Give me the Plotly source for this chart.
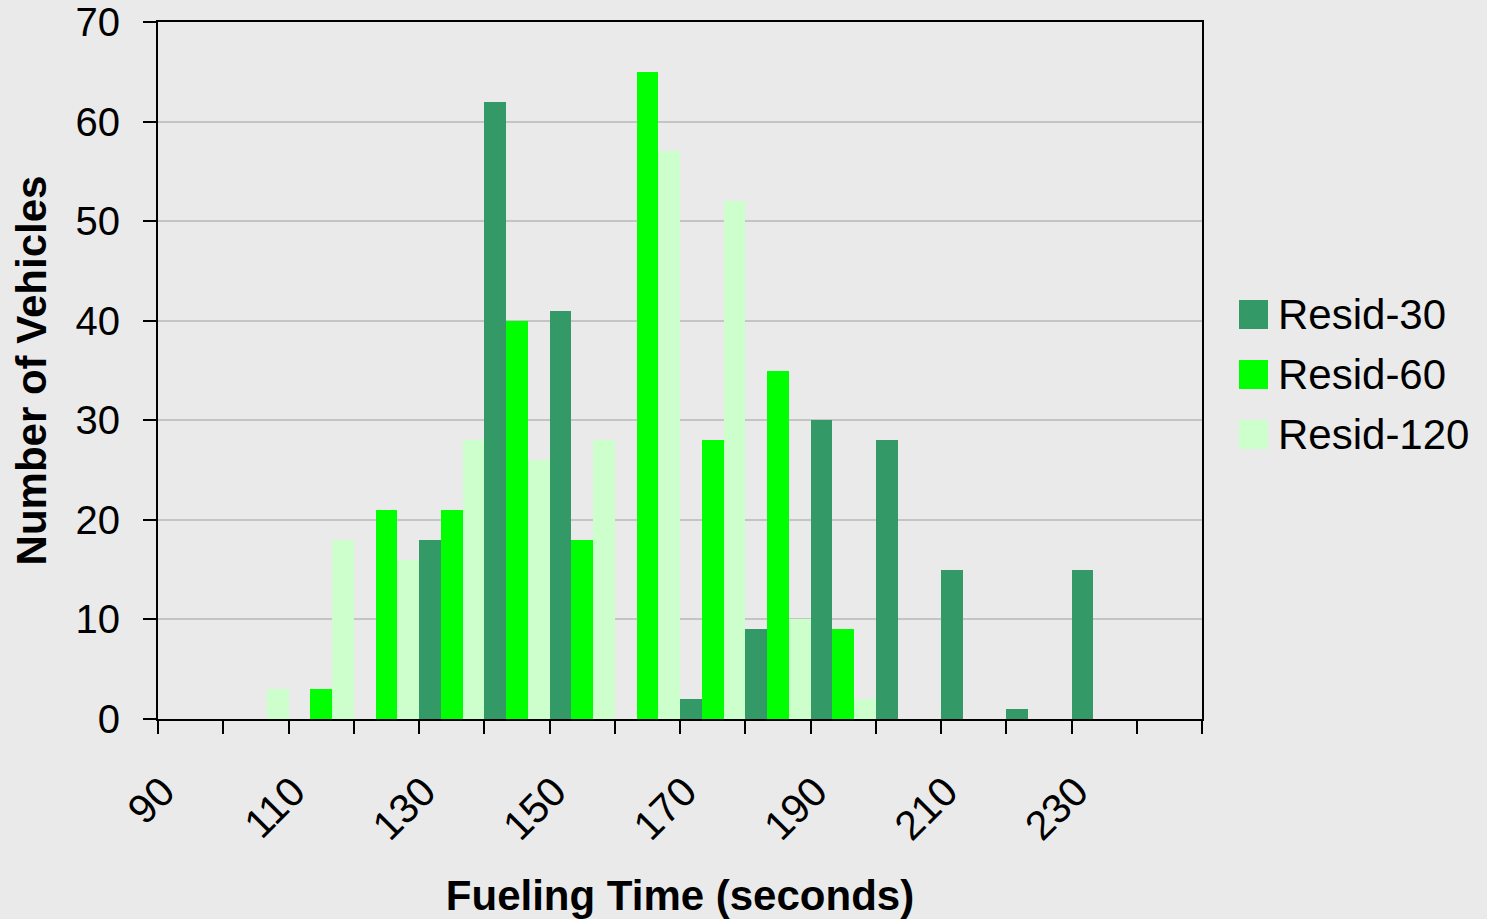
import plotly.graph_objects as go

# Fueling time bins (seconds) and vehicle counts per residence-time setting
fueling_time = [90, 100, 110, 120, 130, 140, 150, 160, 170, 180, 190, 200, 210, 220, 230, 240]
resid_30 = [0, 0, 0, 0, 18, 62, 41, 0, 2, 9, 30, 28, 15, 1, 15, 0]
resid_60 = [0, 0, 3, 21, 21, 40, 18, 65, 28, 35, 9, 0, 0, 0, 0, 0]
resid_120 = [0, 3, 18, 16, 28, 26, 28, 57, 52, 10, 2, 0, 0, 0, 0, 0]

series_names = ["Resid-30", "Resid-60", "Resid-120"]
series_values = [resid_30, resid_60, resid_120]
series_colors = ["#339966", "#00FF00", "#CCFFCC"]

x_labels = [90, 110, 130, 150, 170, 190, 210, 230]
y_ticks = [0, 10, 20, 30, 40, 50, 60, 70]

W, H = 1487, 919
L, R, T, B = 158, 285, 22, 200
plot_w = W - L - R
plot_h = H - T - B
bg = "#EAEAEA"
font_family = "Arial, Liberation Sans, sans-serif"

fig = go.Figure()
for name, vals, col in zip(series_names, series_values, series_colors):
    fig.add_trace(go.Bar(x=fueling_time, y=vals, name=name, marker=dict(color=col, line=dict(width=0)),
                         showlegend=False))

step = fueling_time[1] - fueling_time[0]
bounds = [v - step / 2 for v in fueling_time] + [fueling_time[-1] + step / 2]

fig.update_layout(
    width=W, height=H,
    margin=dict(l=L, r=R, t=T, b=B, pad=0, autoexpand=False),
    paper_bgcolor=bg, plot_bgcolor=bg,
    barmode="group", bargap=0, bargroupgap=0,
    font=dict(family=font_family, size=40, color="black"),
    xaxis=dict(
        range=[bounds[0], bounds[-1]],
        tickmode="array", tickvals=x_labels, ticktext=[str(v) for v in x_labels],
        tickangle=-45, ticks="", ticklen=0,
        tickfont=dict(size=41),
        ticklabelstandoff=30, ticklabelshift=-28,
        minor=dict(tickmode="array", tickvals=bounds, ticks="outside", ticklen=13,
                   tickwidth=2, tickcolor="black", showgrid=False),
        showline=True, linecolor="black", linewidth=2, mirror=True,
        showgrid=False, zeroline=False, automargin=False,
        title=dict(text="<b>Fueling Time (seconds)</b>", font=dict(size=42), standoff=38),
    ),
    yaxis=dict(
        range=[0, 70], tickmode="array", tickvals=y_ticks,
        ticks="outside", ticklen=13, tickwidth=2, tickcolor="black",
        tickfont=dict(size=40),
        ticklabelstandoff=15,
        showline=True, linecolor="black", linewidth=2, mirror=True,
        showgrid=True, gridcolor="#C4C4C4", gridwidth=2, zeroline=False, automargin=False,
        title=dict(text="<b>Number of Vehicles</b>", font=dict(size=42), standoff=16),
    ),
)

# Legend: colour swatches with labels to the right of the plot area
def px_x(p):
    return (p - L) / plot_w

def px_y(p):
    return 1 - (p - T) / plot_h

sw = 29
leg_x0 = 1239
leg_y0 = 300
row_gap = 60
for i, (name, col) in enumerate(zip(series_names, series_colors)):
    y0 = leg_y0 + i * row_gap
    fig.add_shape(type="rect", xref="paper", yref="paper",
                  x0=px_x(leg_x0), x1=px_x(leg_x0 + sw), y0=px_y(y0 + sw), y1=px_y(y0),
                  fillcolor=col, line=dict(width=0))
    fig.add_annotation(xref="paper", yref="paper", x=px_x(leg_x0 + sw + 8), y=px_y(y0 + sw / 2),
                       text=name, showarrow=False, xanchor="left", yanchor="middle",
                       font=dict(size=42, color="black"))

fig.write_html("out.html")
